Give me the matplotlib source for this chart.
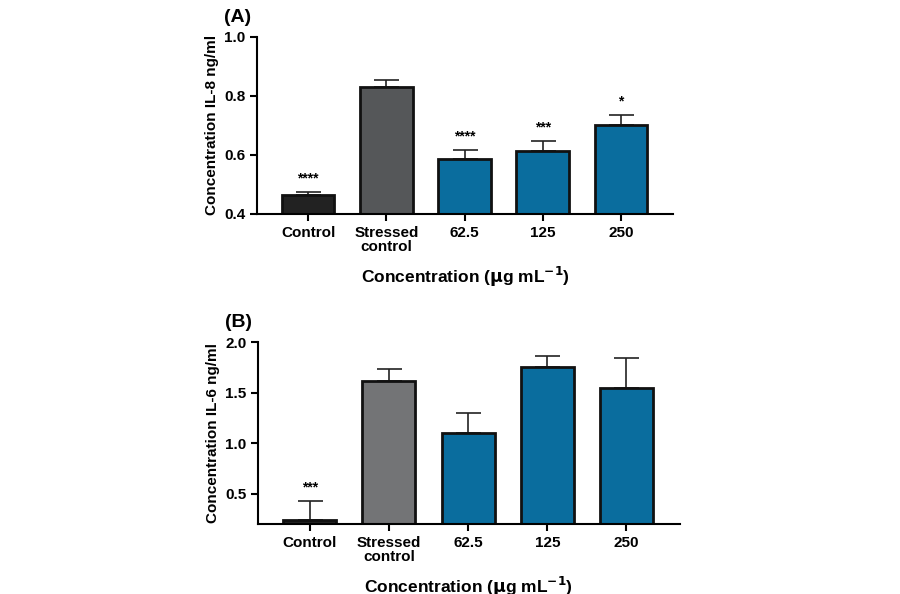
import matplotlib
matplotlib.use("Agg")
import matplotlib.pyplot as plt

cats = ["Control", "Stressed\ncontrol", "62.5", "125", "250"]
il8 = [0.465, 0.830, 0.587, 0.612, 0.700]
il8_err = [0.010, 0.023, 0.030, 0.035, 0.035]
il8_sig = ["****", "", "****", "***", "*"]
il6 = [0.24, 1.62, 1.10, 1.75, 1.55]
il6_err = [0.19, 0.11, 0.20, 0.11, 0.29]
il6_sig = ["***", "", "", "", ""]

plt.rcParams['font.family'] = ['Liberation Sans', 'DejaVu Sans']
plt.rcParams['font.weight'] = 'bold'
fig = plt.figure(figsize=(9, 5.94), dpi=100)

def panel(rect, vals, errs, sigs, ylim, yticks, ylabel, grey, label):
    ax = fig.add_axes(rect)
    x = list(range(len(cats)))
    colors = ["#222222", grey, "#0a6d9e", "#0a6d9e", "#0a6d9e"]
    ax.bar(x, vals, width=0.67, color=colors, edgecolor="#111111", linewidth=2, zorder=2)
    ax.errorbar(x, vals, yerr=[[0]*len(vals), errs], fmt="none", ecolor="#222222",
                elinewidth=1.2, capsize=9, capthick=1.2, zorder=1)
    for xi, v, e, s in zip(x, vals, errs, sigs):
        if s:
            ax.text(xi, v + e + (ylim[1]-ylim[0])*0.035, s, ha="center", va="bottom", fontsize=10)
    ax.set_xlim(-0.65, 4.67)
    ax.set_ylim(*ylim)
    ax.set_yticks(yticks)
    ax.set_xticks(x)
    ax.set_xticklabels(cats, fontsize=11, fontweight="bold", linespacing=1.0)
    ax.tick_params(axis="y", labelsize=11, width=1.5, length=5)
    ax.tick_params(axis="x", width=1.5, length=5)
    for t in ax.get_yticklabels():
        t.set_fontweight("bold")
    ax.spines["top"].set_visible(False)
    ax.spines["right"].set_visible(False)
    ax.spines["left"].set_linewidth(1.5)
    ax.spines["bottom"].set_linewidth(1.5)
    ax.set_ylabel(ylabel, fontsize=11, fontweight="bold")
    ax.set_xlabel(r"Concentration ($\mathbf{\mu}$g mL$^{\mathbf{-1}}$)", fontsize=12.5,
                  fontweight="bold", labelpad=8)
    ax.text(-0.08, 1.06, label, transform=ax.transAxes, fontsize=14, fontweight="bold",
            va="bottom")
    return ax

panel([0.286, 0.640, 0.462, 0.298], il8, il8_err, il8_sig, (0.4, 1.0),
      [0.4, 0.6, 0.8, 1.0], "Concentration IL-8 ng/ml", "#555759", "(A)")
panel([0.287, 0.118, 0.468, 0.306], il6, il6_err, il6_sig, (0.2, 2.0),
      [0.5, 1.0, 1.5, 2.0], "Concentration IL-6 ng/ml", "#737476", "(B)")

fig.savefig("out.png", dpi=100)
